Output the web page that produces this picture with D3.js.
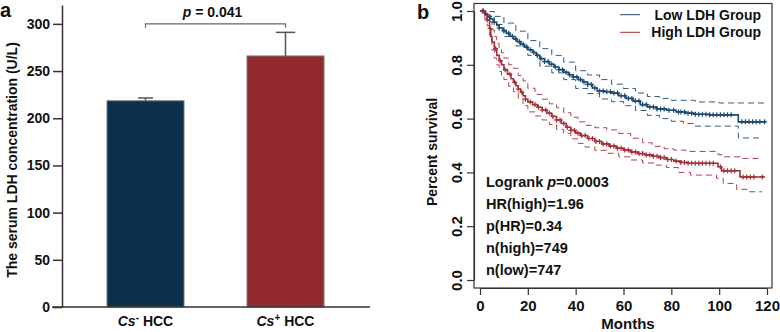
<!DOCTYPE html>
<html>
<head>
<meta charset="utf-8">
<script src="https://cdnjs.cloudflare.com/ajax/libs/d3/7.8.5/d3.min.js"></script>
<style>
  body { margin: 0; background: #fff; }
  svg text { font-family: 'Liberation Sans', Arial, sans-serif; font-weight: bold; fill: #111; }
</style>
</head>
<body>
<div id="chart"></div>
<script>
// ---- panel a data ----
const barGroups = ['-', '+']
const barMeans = [218.5, 266]
const barErrs = [3, 25]
const barColors = ['#0a304e', '#922a2e']
const yTicksA = [0, 50, 100, 150, 200, 250, 300]
const pLabel = '0.041'

// ---- panel b data (Kaplan-Meier, months / survival) ----
const lowT = [0, 2, 3, 4.5, 5.5, 7, 8, 9.5, 11, 12.5, 14, 15.5, 17, 18.5, 20, 22, 23.5, 25, 27, 29, 31, 33, 35, 37, 39, 41, 43, 45, 47, 49, 52, 55, 58, 61, 64, 67, 70, 74, 78, 82, 86, 90, 96, 108, 119.5]
const lowS = [1, 0.99, 0.98, 0.97, 0.958, 0.947, 0.937, 0.927, 0.917, 0.906, 0.896, 0.886, 0.876, 0.866, 0.856, 0.846, 0.835, 0.823, 0.812, 0.802, 0.792, 0.782, 0.772, 0.763, 0.755, 0.745, 0.736, 0.727, 0.714, 0.703, 0.700, 0.695, 0.685, 0.675, 0.665, 0.652, 0.643, 0.636, 0.631, 0.625, 0.620, 0.616, 0.614, 0.588, 0.588]
const lowUpT = [0, 3, 6, 10, 15, 20, 25, 30, 35, 40, 45, 50, 55, 60, 65, 70, 75, 80, 90, 100, 119]
const lowUp = [1, 0.998, 0.98, 0.955, 0.925, 0.89, 0.86, 0.835, 0.81, 0.778, 0.762, 0.745, 0.728, 0.712, 0.695, 0.682, 0.675, 0.668, 0.662, 0.658, 0.658]
const lowLoT = [0, 3, 6, 10, 15, 20, 25, 30, 35, 40, 45, 50, 55, 60, 65, 70, 75, 80, 85, 90, 108, 118]
const lowLo = [1, 0.975, 0.95, 0.905, 0.87, 0.835, 0.795, 0.77, 0.745, 0.712, 0.693, 0.673, 0.663, 0.648, 0.63, 0.612, 0.6, 0.59, 0.582, 0.572, 0.528, 0.528]
const lowCens = [1, 2.5, 4, 6, 8, 10, 12, 13.5, 15, 16.5, 18, 19.5, 21, 22.5, 24, 25.5, 27, 28.5, 30, 31.5, 33, 34.5, 36, 37.5, 39, 40.5, 42, 43.5, 45, 46.5, 48, 50, 51.5, 53, 54.5, 56, 57.5, 59, 60.5, 62, 63.5, 65, 66.5, 68, 69.5, 71, 72.5, 74, 75.5, 77, 79, 81, 83, 84, 85.5, 87, 88.5, 90, 91.5, 93, 94.5, 96, 97.5, 99, 100.5, 102, 103.5, 105, 109.5, 111, 112.5, 114, 115.5, 117, 119]

const highT = [0, 2, 3, 4, 4.5, 5, 6, 7, 8, 9, 10, 11.5, 13, 14, 15, 16, 17, 18, 19, 20, 22, 24, 26, 28, 30, 32, 34, 36, 38, 40, 42, 45, 48, 51, 54, 57, 60, 63, 66, 69, 72, 75, 78, 81, 84, 87, 99.5, 101, 108.7, 119]
const highS = [1, 0.985, 0.967, 0.935, 0.905, 0.885, 0.86, 0.835, 0.815, 0.8, 0.782, 0.765, 0.748, 0.735, 0.722, 0.71, 0.698, 0.685, 0.672, 0.662, 0.652, 0.642, 0.632, 0.62, 0.608, 0.595, 0.582, 0.568, 0.556, 0.546, 0.537, 0.526, 0.515, 0.506, 0.498, 0.49, 0.483, 0.476, 0.47, 0.465, 0.46, 0.455, 0.448, 0.442, 0.437, 0.434, 0.421, 0.406, 0.383, 0.383]
const highUpT = [0, 2, 3, 4, 5, 6, 7, 8, 9, 10, 12, 14, 16, 18, 20, 23, 26, 29, 32, 35, 38, 41, 44, 48, 53, 58, 63, 68, 72, 77, 81, 86, 99.5, 101, 108.7, 118]
const highUp = [1, 0.998, 0.985, 0.96, 0.93, 0.905, 0.88, 0.86, 0.845, 0.825, 0.8, 0.787, 0.76, 0.74, 0.713, 0.69, 0.672, 0.655, 0.64, 0.622, 0.605, 0.588, 0.575, 0.566, 0.558, 0.545, 0.527, 0.51, 0.497, 0.488, 0.483, 0.478, 0.466, 0.458, 0.452, 0.452]
const highLoT = [0, 2, 3, 4, 5, 6, 7, 8, 9, 10, 12, 14, 16, 18, 20, 23, 26, 29, 32, 35, 38, 41, 44, 48, 53, 58, 63, 68, 73, 78, 83, 88, 98.9, 101.7, 107.3, 111.5, 118]
const highLo = [1, 0.97, 0.945, 0.91, 0.855, 0.825, 0.8, 0.775, 0.76, 0.745, 0.72, 0.7, 0.675, 0.648, 0.625, 0.61, 0.595, 0.578, 0.56, 0.545, 0.525, 0.508, 0.494, 0.482, 0.471, 0.458, 0.446, 0.435, 0.427, 0.418, 0.4, 0.39, 0.378, 0.359, 0.337, 0.328, 0.328]
const highCens = [1.5, 3, 4.2, 6.5, 8.5, 10.5, 12.5, 14.5, 16, 17.5, 19, 21, 23, 24.5, 26, 27.5, 29, 30.5, 32, 33.5, 35, 36.5, 38, 39.5, 41, 42.5, 44, 45.5, 47, 48.5, 50, 51.5, 53, 54.5, 56, 57.5, 59, 60.5, 62, 63.5, 65, 66.5, 68, 69.5, 71, 72.5, 74, 75.5, 77, 78.5, 80, 82, 84, 85.5, 87, 88.5, 90, 91.5, 93, 94.5, 96, 97.5, 100.5, 102, 103.5, 105, 106.5, 110, 111.5, 113, 114.5, 118]

const xTicksB = [0, 20, 40, 60, 80, 100, 120]
const yTicksB = [0, 0.2, 0.4, 0.6, 0.8, 1.0]
const legendLabels = ['Low LDH Group', 'High LDH Group']
const kmColors = ['#1b4a72', '#a62f38']
const statLines = ['HR(high)=1.96', 'p(HR)=0.34', 'n(high)=749', 'n(low)=747']

const svg = d3
  .select('#chart')
  .append('svg')
  .attr('width', 780)
  .attr('height', 332)

// ================= panel a =================
const yA = d3.scaleLinear().domain([0, 320]).range([307, 5])
const xA = d3
  .scaleBand()
  .domain(barGroups)
  .range([107, 324])
  .paddingInner(0.45)

svg
  .append('text')
  .text('a')
  .attr('x', 0)
  .attr('y', 17)
  .attr('font-size', 20)

const gA = svg.append('g')

gA.selectAll('.bar')
  .data(barGroups)
  .enter()
  .append('rect')
  .attr('class', 'bar')
  .attr('x', d => xA(d))
  .attr('width', xA.bandwidth())
  .attr('y', (d, i) => yA(barMeans[i]))
  .attr('height', (d, i) => yA(0) - yA(barMeans[i]))
  .attr('fill', (d, i) => barColors[i])
  .attr('stroke', '#777')
  .attr('stroke-width', 1)

// error bars (upper only)
const capHalf = [7.5, 9.7]
barGroups.forEach((g, i) => {
  const cx = xA(g) + xA.bandwidth() / 2
  gA.append('line')
    .attr('x1', cx).attr('x2', cx)
    .attr('y1', yA(barMeans[i])).attr('y2', yA(barMeans[i] + barErrs[i]))
    .attr('stroke', '#555').attr('stroke-width', 1.5)
  gA.append('line')
    .attr('x1', cx - capHalf[i]).attr('x2', cx + capHalf[i])
    .attr('y1', yA(barMeans[i] + barErrs[i])).attr('y2', yA(barMeans[i] + barErrs[i]))
    .attr('stroke', '#555').attr('stroke-width', 1.5)
})

const yAxisA = d3
  .axisLeft(yA)
  .tickValues(yTicksA)
  .tickSize(9)
  .tickSizeOuter(0)
  .tickPadding(3)
gA.append('g')
  .attr('class', 'axis y-axis-a')
  .attr('transform', 'translate(62,0)')
  .call(yAxisA)
gA.selectAll('.y-axis-a text').attr('font-size', 14).style('font-family', "'Liberation Sans', Arial, sans-serif").style('font-weight', 'bold').attr('fill', '#111')
gA.selectAll('.y-axis-a line, .y-axis-a path').attr('stroke', '#333').attr('stroke-width', 1.5)

// x axis line
gA.append('line')
  .attr('x1', 52).attr('x2', 370)
  .attr('y1', yA(0)).attr('y2', yA(0))
  .attr('stroke', '#333').attr('stroke-width', 1.5)

barGroups.forEach(g => {
  const t = gA.append('text')
    .attr('x', xA(g) + xA.bandwidth() / 2)
    .attr('y', 326)
    .attr('text-anchor', 'middle')
    .attr('font-size', 14)
  t.append('tspan').text('Cs').attr('font-style', 'italic')
  t.append('tspan').text(g).attr('font-size', 10).attr('dy', -5)
  t.append('tspan').text(' HCC').attr('dy', 5)
})

gA.append('text')
  .text('The serum LDH concentration (U/L)')
  .attr('transform', 'translate(17,160) rotate(-90)')
  .attr('text-anchor', 'middle')
  .attr('font-size', 14)

// significance bracket
const bx1 = xA(barGroups[0]) + xA.bandwidth() / 2
const bx2 = xA(barGroups[1]) + xA.bandwidth() / 2
gA.append('path')
  .attr('d', `M${bx1},${yA(296)}V${yA(300)}H${bx2}V${yA(296)}`)
  .attr('fill', 'none')
  .attr('stroke', '#666')
  .attr('stroke-width', 1.2)
const pt = gA.append('text')
  .attr('x', (bx1 + bx2) / 2 - 3)
  .attr('y', 17)
  .attr('text-anchor', 'middle')
  .attr('font-size', 14)
pt.append('tspan').text('p').attr('font-style', 'italic')
pt.append('tspan').text(' = ' + pLabel)

// ================= panel b =================
const xB = d3.scaleLinear().domain([0, 120]).range([480, 767])
const yB = d3.scaleLinear().domain([0, 1]).range([280, 11])

svg
  .append('text')
  .text('b')
  .attr('x', 417)
  .attr('y', 19)
  .attr('font-size', 20)

const gB = svg.append('g')

const stepLine = d3
  .line()
  .x(d => xB(d[0]))
  .y(d => yB(d[1]))
  .curve(d3.curveStepAfter)

const groups = [
  { t: lowT, s: lowS, upT: lowUpT, up: lowUp, loT: lowLoT, lo: lowLo, cens: lowCens },
  { t: highT, s: highS, upT: highUpT, up: highUp, loT: highLoT, lo: highLo, cens: highCens }
]

groups.forEach((g, i) => {
  const col = kmColors[i]
  ;[[g.upT, g.up], [g.loT, g.lo]].forEach(ci => {
    gB.append('path')
      .datum(d3.zip(ci[0], ci[1]))
      .attr('d', stepLine)
      .attr('fill', 'none')
      .attr('stroke', col)
      .attr('stroke-width', 1)
      .attr('stroke-dasharray', '6,4')
      .attr('opacity', 0.9)
  })
  gB.append('path')
    .datum(d3.zip(g.t, g.s))
    .attr('d', stepLine)
    .attr('fill', 'none')
    .attr('stroke', col)
    .attr('stroke-width', 1.6)
  // censor marks
  gB.selectAll('.cens' + i)
    .data(g.cens)
    .enter()
    .append('path')
    .attr('class', 'cens' + i)
    .attr('d', d => {
      const k = d3.bisectRight(g.t, d) - 1
      const cx = xB(d)
      const cy = yB(g.s[Math.max(0, k)])
      return `M${cx - 2.5},${cy}H${cx + 2.5}M${cx},${cy - 2.5}V${cy + 2.5}`
    })
    .attr('stroke', col)
    .attr('stroke-width', 1.2)
})

// box
gB.append('rect')
  .attr('x', 474)
  .attr('y', 3.5)
  .attr('width', 298)
  .attr('height', 284.5)
  .attr('fill', 'none')
  .attr('stroke', '#333')
  .attr('stroke-width', 1.2)

const xAxisB = d3.axisBottom(xB).tickValues(xTicksB).tickSize(7).tickSizeOuter(0).tickPadding(5)
gB.append('g')
  .attr('class', 'axis x-axis-b')
  .attr('transform', 'translate(0,288)')
  .call(xAxisB)

const yAxisB = d3.axisLeft(yB).tickValues(yTicksB).tickSize(7).tickSizeOuter(0).tickFormat(d3.format('.1f'))
gB.append('g')
  .attr('class', 'axis y-axis-b')
  .attr('transform', 'translate(474,0)')
  .call(yAxisB)

gB.selectAll('.x-axis-b text, .y-axis-b text')
  .attr('font-size', 15)
  .style('font-family', "'Liberation Sans', Arial, sans-serif")
  .style('font-weight', 'bold')
  .attr('fill', '#111')
gB.selectAll('.y-axis-b text')
  .attr('transform', 'rotate(-90)')
  .attr('x', 0)
  .attr('y', -17.5)
  .attr('dy', '0.35em')
  .attr('text-anchor', 'middle')
gB.selectAll('.x-axis-b line, .y-axis-b line, .x-axis-b path, .y-axis-b path')
  .attr('stroke', '#333')
  .attr('stroke-width', 1.2)

gB.append('text')
  .text('Months')
  .attr('x', 628)
  .attr('y', 329)
  .attr('text-anchor', 'middle')
  .attr('font-size', 15)

gB.append('text')
  .text('Percent survival')
  .attr('transform', 'translate(437,152) rotate(-90)')
  .attr('text-anchor', 'middle')
  .attr('font-size', 14)

// legend
legendLabels.forEach((lab, i) => {
  const ly = 14.7 + i * 17.6
  gB.append('line')
    .attr('x1', 620).attr('x2', 640)
    .attr('y1', ly).attr('y2', ly)
    .attr('stroke', kmColors[i])
    .attr('stroke-width', 1)
  gB.append('text')
    .text(lab)
    .attr('x', 761)
    .attr('y', ly + 5)
    .attr('text-anchor', 'end')
    .attr('font-size', 14)
})

// statistics text
const lr = gB.append('text')
  .attr('x', 486)
  .attr('y', 187)
  .attr('font-size', 14.5)
lr.append('tspan').text('Logrank ')
lr.append('tspan').text('p').attr('font-style', 'italic')
lr.append('tspan').text('=0.0003')

gB.selectAll('.stat')
  .data(statLines)
  .enter()
  .append('text')
  .attr('class', 'stat')
  .text(d => d)
  .attr('x', 486)
  .attr('y', (d, i) => 209 + i * 22)
  .attr('font-size', 14.5)
</script>
</body>
</html>
